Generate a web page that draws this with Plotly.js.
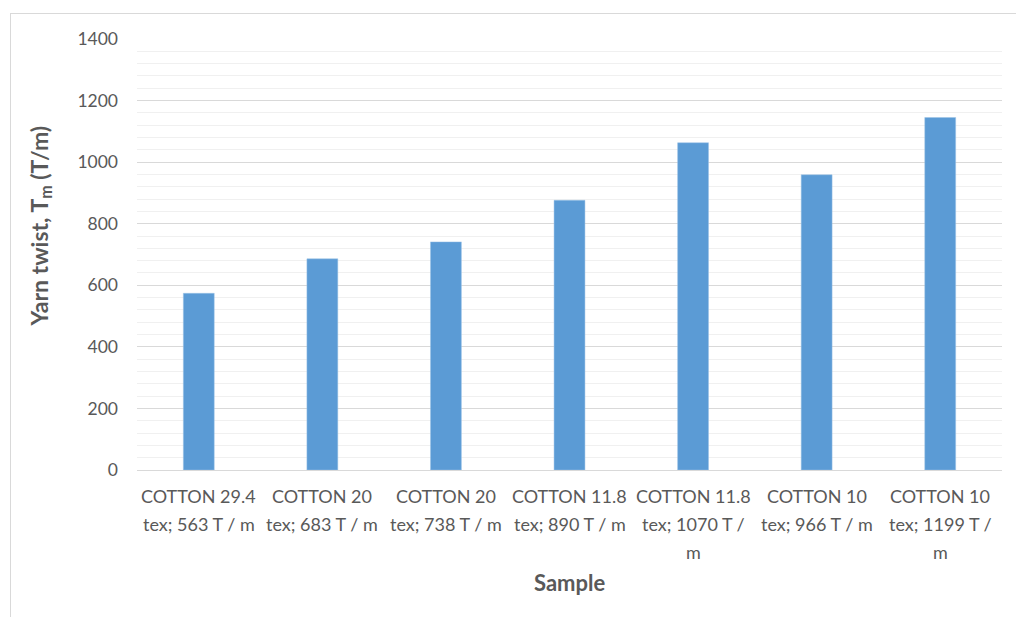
<!DOCTYPE html>
<html>
<head>
<meta charset="utf-8">
<script src="https://cdn.plot.ly/plotly-3.0.1.min.js"></script>
<style>
  html, body { margin: 0; padding: 0; background: #ffffff; overflow: hidden; }
  #wrap { position: relative; width: 1016px; height: 617px; }
  #chart { width: 1016px; height: 617px; }
  #frame { position: absolute; left: 10px; top: 13px; width: 1100px; height: 700px;
           border: 1px solid #d9d9d9; pointer-events: none; }
</style>
</head>
<body>
<div id="wrap">
  <div id="chart"></div>
  <div id="frame"></div>
</div>
<script>
// Data
var categories = ["c1", "c2", "c3", "c4", "c5", "c6", "c7"];
var labelLines = [
  ["COTTON 29.4", "tex; 563 T / m"],
  ["COTTON 20", "tex; 683 T / m"],
  ["COTTON 20", "tex; 738 T / m"],
  ["COTTON 11.8", "tex; 890 T / m"],
  ["COTTON 11.8", "tex; 1070 T /", "m"],
  ["COTTON 10", "tex; 966 T / m"],
  ["COTTON 10", "tex; 1199 T /", "m"]
];
var twistValues = [574, 686, 741, 876, 1063, 959, 1145];
var yTickVals = [0, 200, 400, 600, 800, 1000, 1200, 1400];

var textColor = "#595959";
var fontFamily = "Lato, 'Open Sans', sans-serif";

var annotations = [];
labelLines.forEach(function (lines, i) {
  lines.forEach(function (ln, j) {
    annotations.push({
      x: categories[i], xref: "x",
      y: 0, yref: "paper",
      yanchor: "middle", xanchor: "center",
      yshift: -26 - 28 * j,
      text: ln, showarrow: false,
      font: { family: fontFamily, size: 18, color: textColor }
    });
  });
});
annotations.push({
  x: 0.5, xref: "paper", y: 0, yref: "paper",
  yanchor: "middle", xanchor: "center", yshift: -112,
  text: "<b>Sample</b>", showarrow: false,
  font: { family: fontFamily, size: 22, color: textColor }
});
annotations.push({
  x: 0, xref: "paper", y: 0.5, yref: "paper",
  xanchor: "center", yanchor: "middle", xshift: -97, yshift: 28,
  textangle: -90,
  text: "<b>Yarn twist, T<sub>m</sub> (T/m)</b>", showarrow: false,
  font: { family: fontFamily, size: 23, color: textColor }
});

var trace = {
  type: "bar",
  x: categories,
  y: twistValues,
  marker: { color: "#5b9bd5", line: { color: "#9dc3e6", width: 0.5 } },
  hoverinfo: "y"
};

var layout = {
  width: 1016, height: 617,
  margin: { l: 137, r: 14, t: 39, b: 147 },
  paper_bgcolor: "#ffffff",
  plot_bgcolor: "#ffffff",
  showlegend: false,
  bargap: 0.75,
  font: { family: fontFamily, size: 17, color: textColor },
  xaxis: {
    showticklabels: false,
    showgrid: false,
    zeroline: false,
    showline: true, linecolor: "#d9d9d9", linewidth: 1,
    ticks: ""
  },
  yaxis: {
    range: [0, 1400],
    tickvals: yTickVals,
    ticktext: yTickVals.map(String),
    showgrid: true, gridcolor: "#d9d9d9", gridwidth: 1,
    minor: { dtick: 40, showgrid: true, gridcolor: "#f0f0f0", gridwidth: 1, ticks: "" },
    zeroline: false,
    showline: false,
    ticks: "",
    ticklabelstandoff: 18,
    tickfont: { family: fontFamily, size: 17.5, color: textColor }
  },
  annotations: annotations
};

Plotly.newPlot("chart", [trace], layout, { displayModeBar: false, staticPlot: true });
</script>
</body>
</html>
